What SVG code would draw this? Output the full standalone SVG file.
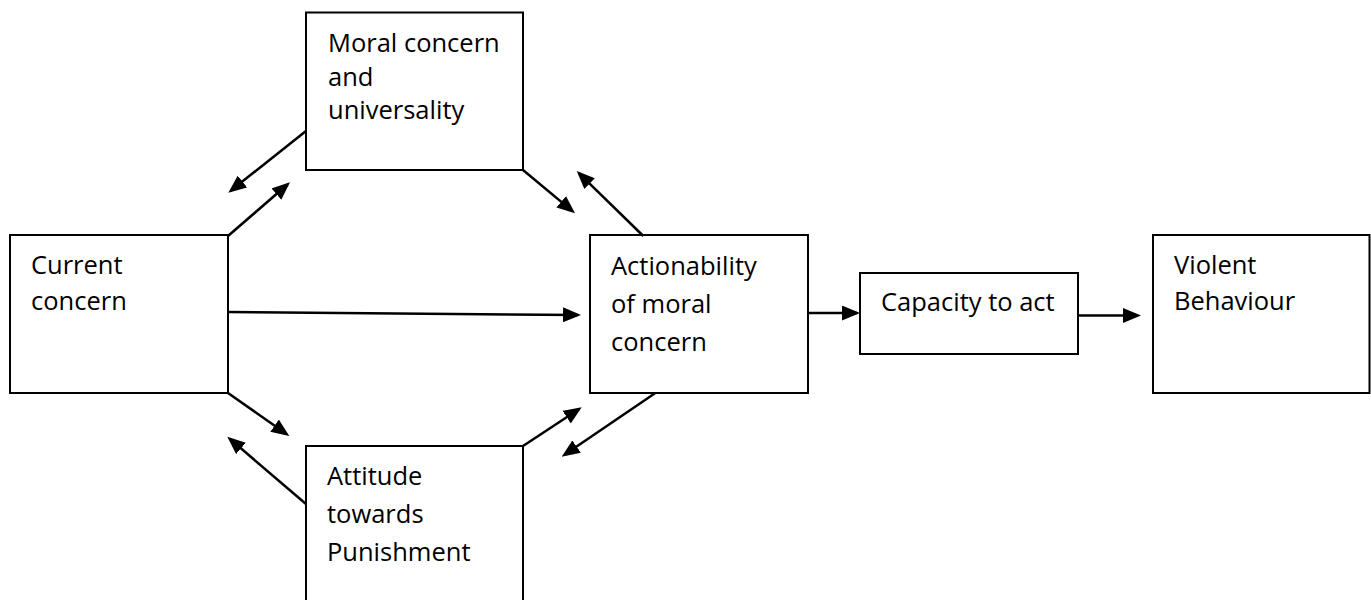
<svg xmlns="http://www.w3.org/2000/svg" width="1371" height="600" viewBox="0 0 1371 600">
<style>
.box{fill:#ffffff;stroke:#000000;stroke-width:2}
.lbl{font-family:"Open Sans","Noto Sans","Liberation Sans",sans-serif;font-size:25.5px;fill:#000000}
.con{stroke:#000000;stroke-width:2.5;fill:none;marker-end:url(#ah)}
</style>
<defs>
<marker id="ah" markerUnits="userSpaceOnUse" viewBox="0 0 18 15" markerWidth="18" markerHeight="15" refX="15" refY="7.5" orient="auto">
<path d="M0,0 L18,7.5 L0,15 z" fill="#000000"/>
</marker>
</defs>
<rect x="0" y="0" width="1371" height="600" fill="#ffffff"/>
<g id="current">
<rect class="box" x="10" y="235" width="218" height="158"/>
<text class="lbl" x="31" y="274">Current</text>
<text class="lbl" x="31" y="310">concern</text>
</g>
<g id="moral">
<rect class="box" x="306" y="12.5" width="217" height="157.5"/>
<text class="lbl" x="328" y="51.5">Moral concern</text>
<text class="lbl" x="328" y="85.5">and</text>
<text class="lbl" x="328" y="119">universality</text>
</g>
<g id="attitude">
<rect class="box" x="306" y="446" width="217" height="162"/>
<text class="lbl" x="327" y="485">Attitude</text>
<text class="lbl" x="327" y="522.5">towards</text>
<text class="lbl" x="327" y="560.5">Punishment</text>
</g>
<g id="actionability">
<rect class="box" x="590" y="235" width="218" height="158"/>
<text class="lbl" x="611" y="275">Actionability</text>
<text class="lbl" x="611" y="313">of moral</text>
<text class="lbl" x="611" y="351">concern</text>
</g>
<g id="capacity">
<rect class="box" x="860" y="273" width="218" height="81"/>
<text class="lbl" x="881" y="311">Capacity to act</text>
</g>
<g id="violent">
<rect class="box" x="1153" y="235" width="216.5" height="158"/>
<text class="lbl" x="1174" y="274">Violent</text>
<text class="lbl" x="1174" y="310">Behaviour</text>
</g>
<g id="connectors">
<line class="con" x1="306" y1="131" x2="230.65" y2="190.83"/>
<line class="con" x1="228" y1="236" x2="287.73" y2="184.26"/>
<line class="con" x1="523" y1="170" x2="572.7" y2="211.38"/>
<line class="con" x1="643.3" y1="236" x2="578.85" y2="173.09"/>
<line class="con" x1="228" y1="393" x2="286.85" y2="434.28"/>
<line class="con" x1="306" y1="504" x2="229.58" y2="438.65"/>
<line class="con" x1="523" y1="446" x2="579.2" y2="408.95"/>
<line class="con" x1="655" y1="393.3" x2="564.18" y2="455.01"/>
<line class="con" x1="228" y1="312" x2="578" y2="315"/>
<line class="con" x1="808" y1="313" x2="857" y2="313"/>
<line class="con" x1="1078" y1="315.5" x2="1138" y2="315.5"/>
</g>
</svg>
